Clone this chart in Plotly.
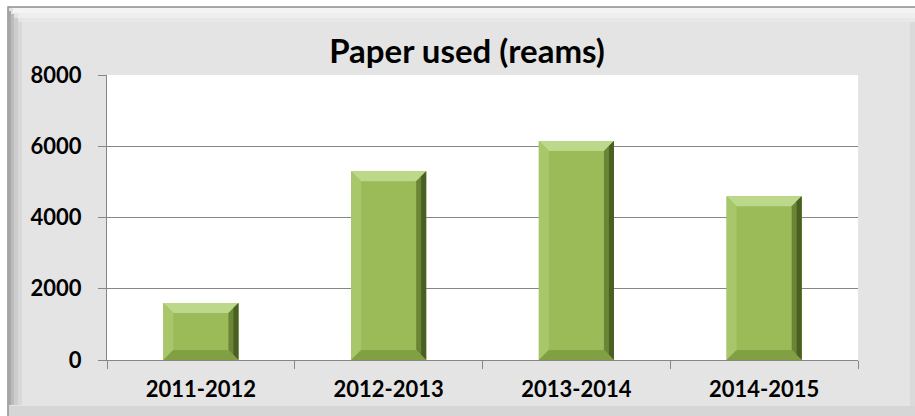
import plotly.graph_objects as go

# Chart data
years = ["2011-2012", "2012-2013", "2013-2014", "2014-2015"]
reams = [1600, 5300, 6150, 4600]
y_ticks = [0, 2000, 4000, 6000, 8000]

W, H = 915, 416
L, R, T, B = 107, 858, 75, 360   # plot area in pixels
Y_MAX = 8000
BAR_W = 0.4

FONT = dict(family="Lato, Carlito, sans-serif", color="#000000", weight=700)


def px(x):
    """pixel x -> paper x"""
    return (x - L) / (R - L)


def py(y):
    """pixel y -> paper y"""
    return (B - y) / (B - T)


positions = list(range(len(years)))

fig = go.Figure()
fig.add_trace(go.Bar(
    x=positions,
    y=reams,
    width=BAR_W,
    marker=dict(color="#9bbb59", line=dict(width=0)),
    hovertemplate="%{text}: %{y}<extra></extra>",
    text=years,
    textposition="none",
))

shapes = []

# Chart area frame with a soft bevel
shapes.append(dict(type="rect", xref="paper", yref="paper", layer="below",
                   x0=px(8), x1=px(925), y0=py(425), y1=py(7),
                   fillcolor="#e4e4e4", line=dict(color="#8f8f8f", width=1.5)))
for x0, x1, col in [(9, 11, "#a8a8a8"), (11, 14, "#bcbcbc"), (14, 18, "#cdcdcd"), (18, 22, "#d9d9d9")]:
    shapes.append(dict(type="rect", xref="paper", yref="paper", layer="below",
                       x0=px(x0), x1=px(x1), y0=py(405), y1=py(8 + (x1 - 8)),
                       fillcolor=col, line=dict(width=0)))
for y0, y1, col in [(8, 13, "#f4f4f4"), (13, 18, "#eeeeee"), (18, 22, "#e8e8e8")]:
    shapes.append(dict(type="rect", xref="paper", yref="paper", layer="below",
                       x0=px(8 + (y1 - 8)), x1=px(915), y0=py(y1), y1=py(y0),
                       fillcolor=col, line=dict(width=0)))
shapes.append(dict(type="rect", xref="paper", yref="paper", layer="below",
                   x0=px(9), x1=px(915), y0=py(416), y1=py(406),
                   fillcolor="#d6d6d6", line=dict(width=0)))
shapes.append(dict(type="rect", xref="paper", yref="paper", layer="below",
                   x0=px(910), x1=px(915), y0=py(406), y1=py(22),
                   fillcolor="#dadada", line=dict(width=0)))
# White plot area
shapes.append(dict(type="rect", xref="paper", yref="paper", layer="below",
                   x0=0, x1=1, y0=0, y1=1, fillcolor="#ffffff", line=dict(width=0)))

# Bevel facets on each bar, derived from the bar values
dx = 10 / ((R - L) / len(years))
dy = 10 * Y_MAX / (B - T)
for i, v in zip(positions, reams):
    x0, x1 = i - BAR_W / 2, i + BAR_W / 2
    facets = [
        ([(x0, v), (x1, v), (x1 - dx, v - dy), (x0 + dx, v - dy)], "#bcd88a"),
        ([(x0, v), (x0 + dx, v - dy), (x0 + dx, dy), (x0, 0)], "#a8c66a"),
        ([(x1, v), (x1, 0), (x1 - dx, dy), (x1 - dx, v - dy)], "#6a8536"),
        ([(x1, v), (x1, 0), (x1 - dx / 2, dy / 2), (x1 - dx / 2, v - dy / 2)], "#4a5f22"),
        ([(x0, 0), (x1, 0), (x1 - dx, dy), (x0 + dx, dy)], "#80a043"),
    ]
    for pts, col in facets:
        path = "M " + " L ".join(f"{a},{b}" for a, b in pts) + " Z"
        shapes.append(dict(type="path", xref="x", yref="y", layer="above",
                           path=path, fillcolor=col, line=dict(width=0)))

AX_COL = "#868686"

fig.update_layout(
    width=W, height=H,
    margin=dict(l=L, r=W - R, t=T, b=H - B),
    paper_bgcolor="#ffffff",
    plot_bgcolor="rgba(0,0,0,0)",
    showlegend=False,
    bargap=0.6,
    font=FONT,
    title=dict(text="Paper used (reams)", x=467 / W, xanchor="center",
               y=1 - 51 / H, yanchor="middle", xref="container", yref="container",
               font=dict(size=33, **FONT)),
    shapes=shapes,
    xaxis=dict(
        range=[-0.5, len(years) - 0.5],
        tickmode="array", tickvals=positions, ticktext=years,
        ticks="", showgrid=False, zeroline=False,
        showline=True, linecolor=AX_COL, linewidth=1,
        tickfont=dict(size=22, **FONT),
        ticklabelstandoff=10,
        minor=dict(tickmode="array",
                   tickvals=[p - 0.5 for p in positions] + [positions[-1] + 0.5],
                   ticks="outside", ticklen=8, tickcolor=AX_COL, tickwidth=1,
                   showgrid=False),
        fixedrange=True,
    ),
    yaxis=dict(
        range=[0, Y_MAX], tickmode="array", tickvals=y_ticks,
        ticks="outside", ticklen=8, tickcolor=AX_COL,
        showgrid=True, gridcolor=AX_COL, gridwidth=1,
        zeroline=False, showline=True, linecolor=AX_COL, linewidth=1,
        tickfont=dict(size=22, **FONT),
        ticklabelstandoff=12,
        fixedrange=True,
    ),
)

fig.write_html("out.html")
